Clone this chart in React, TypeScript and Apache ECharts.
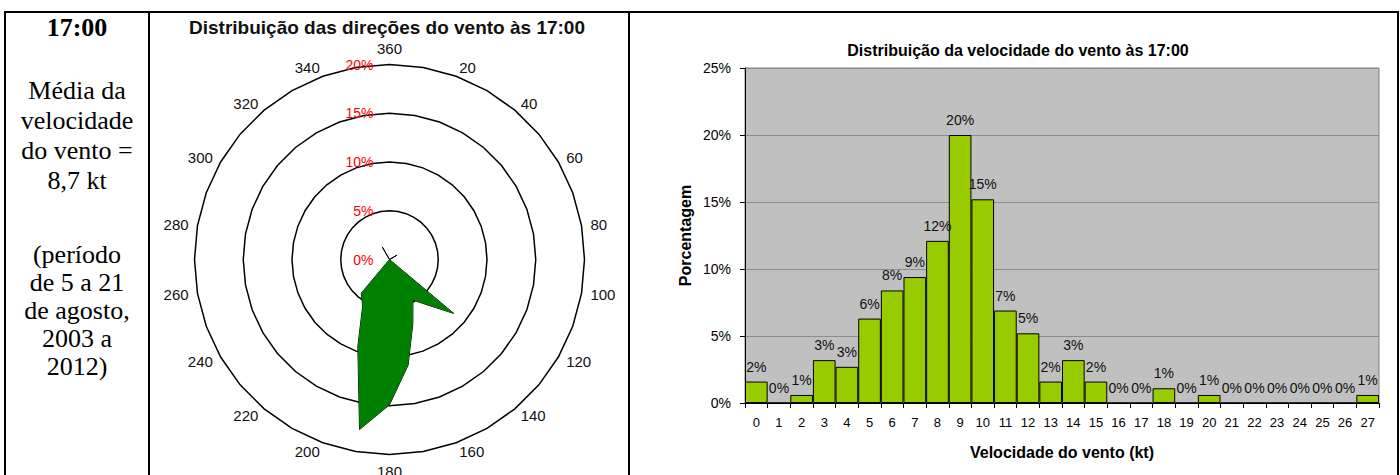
import React, { useEffect, useRef } from "react";
import * as echarts from "echarts";

// ---- Wind direction distribution (% by direction, degrees) ----
const directions: number[] = [0, 10, 20, 30, 40, 50, 60, 70, 80, 90, 100, 110, 120, 130, 140, 150, 160, 170, 180, 190, 200, 210, 220, 230, 240, 250, 260, 270, 280, 290, 300, 310, 320, 330, 340, 350];
const directionPct: number[] = [0, 0, 0, 0, 0, 0, 0.9, 0, 0, 0, 0, 0, 0, 8.6, 6.1, 4.8, 7.0, 11.0, 14.9, 17.7, 9.5, 5.5, 4.5, 0, 0, 0, 0, 0, 0, 0, 0, 0, 0, 1.5, 0, 0];
const radarMax = 20;

// ---- Wind speed distribution ----
const speedCategories: string[] = ["0", "1", "2", "3", "4", "5", "6", "7", "8", "9", "10", "11", "12", "13", "14", "15", "16", "17", "18", "19", "20", "21", "22", "23", "24", "25", "26", "27"];
const speedPct: number[] = [1.6, 0, 0.6, 3.2, 2.7, 6.3, 8.4, 9.4, 12.1, 20.0, 15.2, 6.9, 5.2, 1.6, 3.2, 1.6, 0, 0, 1.1, 0, 0.6, 0, 0, 0, 0, 0, 0, 0.6];

const titleDir = "Distribuição das direções do vento às 17:00";
const titleSpeed = "Distribuição da velocidade do vento às 17:00";
const xName = "Velocidade do vento (kt)";
const yName = "Porcentagem";

export default function App() {
  const ref = useRef<HTMLDivElement>(null);

  useEffect(() => {
    if (!ref.current) return;
    const chart = echarts.init(ref.current, null, { renderer: "svg" });

    // radar goes counter-clockwise, so list directions in reverse to get a clockwise rose
    const order = directions.map((_, k) => (directions.length - k) % directions.length);
    const indicator = order.map((i, k) => {
      const d = directions[i];
      const name = d === 0 ? "360" : d % 20 === 0 ? String(d) : "";
      const ind: any = { name, min: 0, max: radarMax };
      if (k === 0) ind.axisLabel = { show: true };
      return ind;
    });
    const radarValues = order.map((i) => directionPct[i]);

    const font = "'Liberation Sans', Arial, sans-serif";

    chart.setOption({
      animation: false,
      textStyle: { fontFamily: font },
      title: [
        {
          text: titleDir,
          left: 382,
          top: 13,
          textAlign: "center",
          textStyle: { fontSize: 19, fontWeight: "bold", color: "#111", fontFamily: font },
        },
        {
          text: titleSpeed,
          left: 1013,
          top: 37,
          textAlign: "center",
          textStyle: { fontSize: 16, fontWeight: "bold", color: "#000", fontFamily: font },
        },
      ],
      radar: {
        center: [389.5, 259.5],
        radius: 195,
        startAngle: 90,
        shape: "polygon",
        splitNumber: 4,
        indicator,
        axisName: { color: "#111", fontSize: 15, fontFamily: font },
        nameGap: 9,
        axisLine: { show: false },
        axisTick: { show: false },
        splitArea: { show: false },
        splitLine: { lineStyle: { color: "#000", width: 1.5 } },
        axisLabel: {
          show: false,
          color: "#ff0000",
          fontSize: 14,
          margin: 16,
          formatter: "{value}%",
          showMinLabel: true,
          showMaxLabel: true,
        },
      },
      grid: {
        left: 745,
        top: 68,
        width: 634,
        height: 335,
        show: true,
        backgroundColor: "#C0C0C0",
        borderColor: "#808080",
        borderWidth: 1,
      },
      xAxis: {
        type: "category",
        data: speedCategories,
        boundaryGap: true,
        name: xName,
        nameLocation: "middle",
        nameGap: 41,
        nameTextStyle: { fontSize: 16, fontWeight: "bold", color: "#000" },
        axisLine: { lineStyle: { color: "#000", width: 1 } },
        axisTick: { show: true, interval: 0, length: 5, lineStyle: { color: "#000" } },
        axisLabel: { interval: 0, fontSize: 13, color: "#000", margin: 13 },
      },
      yAxis: {
        type: "value",
        min: 0,
        max: 25,
        interval: 5,
        name: yName,
        nameLocation: "middle",
        nameGap: 52,
        nameTextStyle: { fontSize: 16, fontWeight: "bold", color: "#000" },
        axisLine: { show: true, lineStyle: { color: "#000", width: 1 } },
        axisTick: { show: true, length: 5, lineStyle: { color: "#000" } },
        axisLabel: { formatter: "{value}%", fontSize: 14, color: "#000", margin: 14 },
        splitLine: { lineStyle: { color: "#8c8c8c", width: 1 } },
      },
      series: [
        {
          type: "radar",
          symbol: "none",
          data: [
            {
              value: radarValues,
              lineStyle: { color: "#000", width: 1 },
              areaStyle: { color: "#008000", opacity: 1 },
            },
          ],
        },
        {
          type: "bar",
          data: speedPct,
          barCategoryGap: "0%",
          itemStyle: { color: "#99CC00", borderColor: "#000", borderWidth: 1 },
          label: {
            show: true,
            position: "top",
            distance: 8,
            fontSize: 14,
            color: "#111",
            formatter: (p: any) => Math.round(p.value) + "%",
          },
        },
      ],
    });

    return () => chart.dispose();
  }, []);

  const serif = "'Liberation Serif', 'Times New Roman', serif";
  const cellText: React.CSSProperties = {
    position: "absolute",
    left: 6,
    width: 142,
    textAlign: "center",
    fontFamily: serif,
    fontSize: 26,
    color: "#000",
    margin: 0,
  };

  return (
    <div style={{ position: "absolute", left: 0, top: 0, width: 1400, height: 475, overflow: "hidden", background: "#fff" }}>
      <div ref={ref} style={{ position: "absolute", left: 0, top: 0, width: 1400, height: 475 }} />
      <div style={{ position: "absolute", left: 4, top: 11, width: 1395, height: 480, boxSizing: "border-box", borderTop: "2px solid #000", borderLeft: "2px solid #000", borderRight: "2px solid #000" }} />
      <div style={{ position: "absolute", left: 148, top: 11, width: 2, height: 470, background: "#000" }} />
      <div style={{ position: "absolute", left: 628, top: 11, width: 2, height: 470, background: "#000" }} />
      <div style={{ ...cellText, top: 13, lineHeight: "30px", fontWeight: "bold" }}>17:00</div>
      <div style={{ ...cellText, top: 76, lineHeight: "30px" }}>
        Média da<br />velocidade<br />do vento =<br />8,7 kt
      </div>
      <div style={{ ...cellText, top: 241, lineHeight: "28px" }}>
        (período<br />de 5 a 21<br />de agosto,<br />2003 a<br />2012)
      </div>
    </div>
  );
}
